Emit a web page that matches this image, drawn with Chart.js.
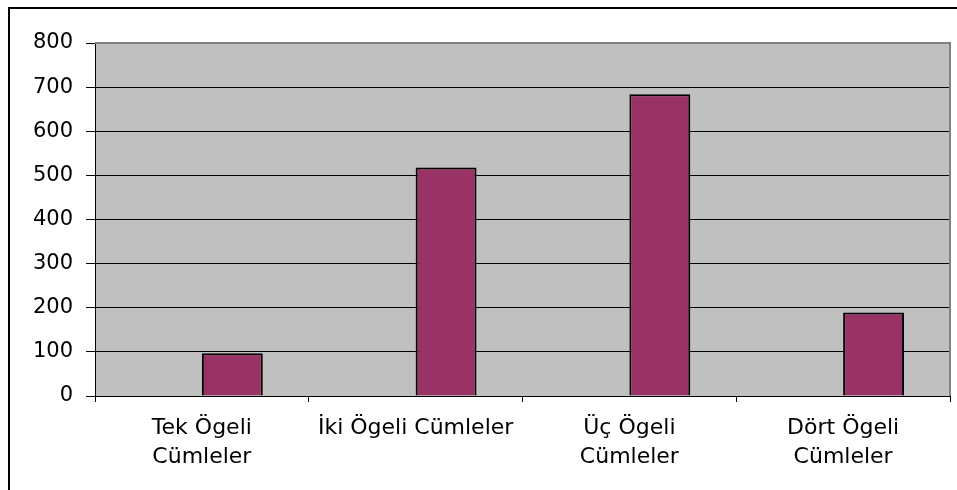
<!DOCTYPE html>
<html>
<head>
<meta charset="utf-8">
<script src="https://cdn.jsdelivr.net/npm/chart.js@4/dist/chart.umd.min.js"></script>
<style>
  body { margin: 0; background: #ffffff; }
  #wrap { width: 957px; height: 490px; }
</style>
</head>
<body>
<div id="wrap"><canvas id="cumleChart" width="957" height="490"></canvas></div>
<script>
// Chart data
const categories = [['Tek Ögeli', 'Cümleler'], 'İki Ögeli Cümleler', ['Üç Ögeli', 'Cümleler'], ['Dört Ögeli', 'Cümleler']];
const emptySeries = [null, null, null, null];   // Excel's unused first series, keeps bars right of centre
const cumleCounts = [97, 518, 684, 189];
const yTicks = [0, 100, 200, 300, 400, 500, 600, 700, 800];

// Plot background, outer frame and grey plot border
const framePlugin = {
  id: 'frame',
  beforeDraw(chart) {
    const { ctx, chartArea: a } = chart;
    ctx.save();
    ctx.fillStyle = '#c0c0c0';
    ctx.fillRect(a.left, a.top, a.right - a.left, a.bottom - a.top);
    ctx.restore();
  },
  afterDraw(chart) {
    const { ctx, chartArea: a } = chart;
    ctx.save();
    // outer chart frame (only top and left are visible)
    ctx.strokeStyle = '#000';
    ctx.lineWidth = 2;
    ctx.beginPath();
    ctx.moveTo(9, chart.height);
    ctx.lineTo(9, 8);
    ctx.lineTo(chart.width, 8);
    ctx.stroke();
    // grey plot border on top and right
    ctx.strokeStyle = '#808080';
    ctx.beginPath();
    ctx.moveTo(a.left, a.top);
    ctx.lineTo(a.right, a.top);
    ctx.lineTo(a.right, a.bottom);
    ctx.stroke();
    ctx.restore();
  }
};

new Chart(document.getElementById('cumleChart'), {
  type: 'bar',
  data: {
    labels: categories,
    datasets: [
      { data: emptySeries, backgroundColor: '#9999ff' },
      {
        data: cumleCounts,
        backgroundColor: '#993366',
        borderColor: '#000000',
        borderWidth: 2
      }
    ]
  },
  options: {
    responsive: false,
    animation: false,
    categoryPercentage: 0.57,
    barPercentage: 1,
    layout: { padding: { top: 43, right: 7, left: 0, bottom: 0 } },
    plugins: {
      legend: { display: false },
      tooltip: { enabled: false }
    },
    scales: {
      x: {
        afterFit(scale) { scale.height = 94; },
        grid: {
          offset: true,
          drawOnChartArea: false,
          drawTicks: true,
          tickLength: 6,
          color: '#000'
        },
        border: { color: '#000', width: 1 },
        ticks: {
          color: '#000',
          padding: 12,
          maxRotation: 0,
          autoSkip: false,
          font: { family: 'DejaVu Sans', size: 22, lineHeight: 1.32 }
        }
      },
      y: {
        min: 0,
        max: 800,
        afterFit(scale) { scale.width = 95; },
        afterBuildTicks(scale) { scale.ticks = yTicks.map(v => ({ value: v })); },
        grid: {
          color: '#000',
          lineWidth: 1,
          tickLength: 9
        },
        border: { color: '#000', width: 1 },
        ticks: {
          color: '#000',
          padding: 13,
          font: { family: 'DejaVu Sans', size: 21 }
        }
      }
    }
  },
  plugins: [framePlugin]
});
</script>
</body>
</html>
